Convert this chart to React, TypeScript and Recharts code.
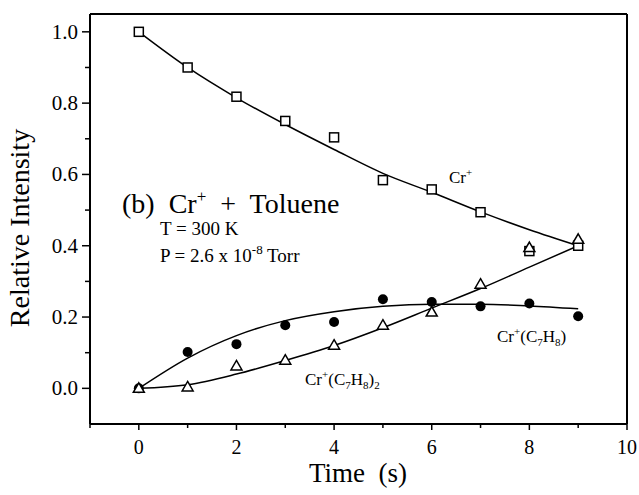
import React from "react";
import {
  ComposedChart,
  Line,
  Scatter,
  XAxis,
  YAxis,
  ReferenceLine,
  Customized,
} from "recharts";

const times = [0, 1, 2, 3, 4, 5, 6, 7, 8, 9];

// measured points
const crIon = [1.0, 0.9, 0.818, 0.75, 0.704, 0.584, 0.558, 0.494, 0.385, 0.4];
const crTol = [0.0, 0.102, 0.124, 0.177, 0.186, 0.25, 0.242, 0.23, 0.238, 0.202];
const crTol2 = [0.0, 0.004, 0.063, 0.079, 0.121, 0.177, 0.214, 0.292, 0.395, 0.418];

// fitted curves
const crIonFit = [1.0, 0.9, 0.815, 0.74, 0.67, 0.603, 0.55, 0.495, 0.445, 0.4];
const crTolFit = [0.0, 0.085, 0.148, 0.19, 0.215, 0.23, 0.236, 0.236, 0.231, 0.223];
const crTol2Fit = [0.0, 0.01, 0.04, 0.078, 0.12, 0.17, 0.225, 0.28, 0.34, 0.4];

const xTicks = [-1, 0, 1, 2, 3, 4, 5, 6, 7, 8, 9, 10];
const yTicks = [0, 0.1, 0.2, 0.3, 0.4, 0.5, 0.6, 0.7, 0.8, 0.9, 1.0];

const toRows = (vals: number[]) => times.map((t, i) => ({ t, y: vals[i] }));

const FONT = "'Liberation Serif', 'Times New Roman', serif";
const serif = { fontFamily: FONT };

const XTick = (props: any) => {
  const { x, y, payload } = props;
  const v = payload.value;
  const major = v % 2 === 0;
  return (
    <g>
      <line x1={x} x2={x} y1={y} y2={y + (major ? 6 : 4)} stroke="#000" strokeWidth={1.5} />
      {major && v >= 0 && (
        <text x={x} y={y + 30} textAnchor="middle" fontSize={20} style={serif} fill="#000">
          {v}
        </text>
      )}
    </g>
  );
};

const YTick = (props: any) => {
  const { x, y, payload } = props;
  const v = payload.value;
  const major = Math.round(v * 10) % 2 === 0;
  return (
    <g>
      <line x1={x} x2={x - (major ? 8 : 5)} y1={y} y2={y} stroke="#000" strokeWidth={1.5} />
      {major && (
        <text x={x - 12} y={y + 7} textAnchor="end" fontSize={21} style={serif} fill="#000">
          {v.toFixed(1)}
        </text>
      )}
    </g>
  );
};

const OpenSquare = (props: any) => (
  <rect x={props.cx - 4.5} y={props.cy - 4.5} width={9} height={9} fill="#fff" stroke="#000" strokeWidth={1.5} />
);

const FilledCircle = (props: any) => <circle cx={props.cx} cy={props.cy} r={5} fill="#000" />;

const OpenTriangle = (props: any) => (
  <path
    d={`M${props.cx},${props.cy - 5.5} L${props.cx + 5.5},${props.cy + 4} L${props.cx - 5.5},${props.cy + 4} Z`}
    fill="#fff"
    stroke="#000"
    strokeWidth={1.5}
  />
);

const Annotations = () => (
  <g style={serif} fill="#000">
    <text x={122} y={213} fontSize={28} style={{ ...serif, whiteSpace: "pre" }}>
      (b)  Cr<tspan dy={-11} fontSize={17}>+</tspan>
      <tspan dy={11}>  +  Toluene</tspan>
    </text>
    <text x={160} y={235} fontSize={19} style={serif}>T = 300 K</text>
    <text x={160} y={262} fontSize={19} style={serif}>
      P = 2.6 x 10<tspan dy={-8} fontSize={13}>-8</tspan>
      <tspan dy={8}> Torr</tspan>
    </text>
    <text x={449} y={183} fontSize={17} style={serif}>
      Cr<tspan dy={-7} fontSize={11}>+</tspan>
    </text>
    <text x={497} y={342} fontSize={17} style={serif}>
      Cr<tspan dy={-7} fontSize={11}>+</tspan>
      <tspan dy={7}>(C</tspan>
      <tspan dy={4} fontSize={11}>7</tspan>
      <tspan dy={-4}>H</tspan>
      <tspan dy={4} fontSize={11}>8</tspan>
      <tspan dy={-4}>)</tspan>
    </text>
    <text x={305} y={385} fontSize={17} style={serif}>
      Cr<tspan dy={-7} fontSize={11}>+</tspan>
      <tspan dy={7}>(C</tspan>
      <tspan dy={4} fontSize={11}>7</tspan>
      <tspan dy={-4}>H</tspan>
      <tspan dy={4} fontSize={11}>8</tspan>
      <tspan dy={-4}>)</tspan>
      <tspan dy={4} fontSize={11}>2</tspan>
    </text>
    <text x={358} y={482} fontSize={27} textAnchor="middle" style={{ ...serif, whiteSpace: "pre" }}>
      Time  (s)
    </text>
    <text
      x={0}
      y={0}
      fontSize={28}
      textAnchor="middle"
      style={serif}
      transform="translate(29,228) rotate(-90)"
    >
      Relative Intensity
    </text>
  </g>
);

export default function App() {
  return (
    <div style={{ position: "absolute", left: 0, top: 0, background: "#fff", fontFamily: FONT }}>
      <ComposedChart width={639} height={495} margin={{ top: 14, right: 12, left: 0, bottom: 0 }}>
        <XAxis
          dataKey="t"
          type="number"
          domain={[-1, 10]}
          ticks={xTicks}
          interval={0}
          height={71}
          tickSize={0}
          tickMargin={0}
          tickLine={false}
          tick={<XTick />}
          axisLine={{ stroke: "#000", strokeWidth: 2 }}
          allowDataOverflow
        />
        <YAxis
          dataKey="y"
          type="number"
          domain={[-0.1, 1.05]}
          ticks={yTicks}
          interval={0}
          width={90}
          tickSize={0}
          tickMargin={0}
          tickLine={false}
          tick={<YTick />}
          axisLine={{ stroke: "#000", strokeWidth: 2 }}
          allowDataOverflow
        />
        <ReferenceLine x={10} stroke="#000" strokeWidth={2} />
        <ReferenceLine y={1.05} stroke="#000" strokeWidth={2} />
        <Line data={toRows(crIonFit)} dataKey="y" type="monotone" stroke="#000" strokeWidth={1.5} dot={false} isAnimationActive={false} />
        <Line data={toRows(crTolFit)} dataKey="y" type="monotone" stroke="#000" strokeWidth={1.5} dot={false} isAnimationActive={false} />
        <Line data={toRows(crTol2Fit)} dataKey="y" type="monotone" stroke="#000" strokeWidth={1.5} dot={false} isAnimationActive={false} />
        <Scatter data={toRows(crIon)} dataKey="y" shape={<OpenSquare />} isAnimationActive={false} />
        <Scatter data={toRows(crTol)} dataKey="y" shape={<FilledCircle />} isAnimationActive={false} />
        <Scatter data={toRows(crTol2)} dataKey="y" shape={<OpenTriangle />} isAnimationActive={false} />
        <Customized component={<Annotations />} />
      </ComposedChart>
    </div>
  );
}
